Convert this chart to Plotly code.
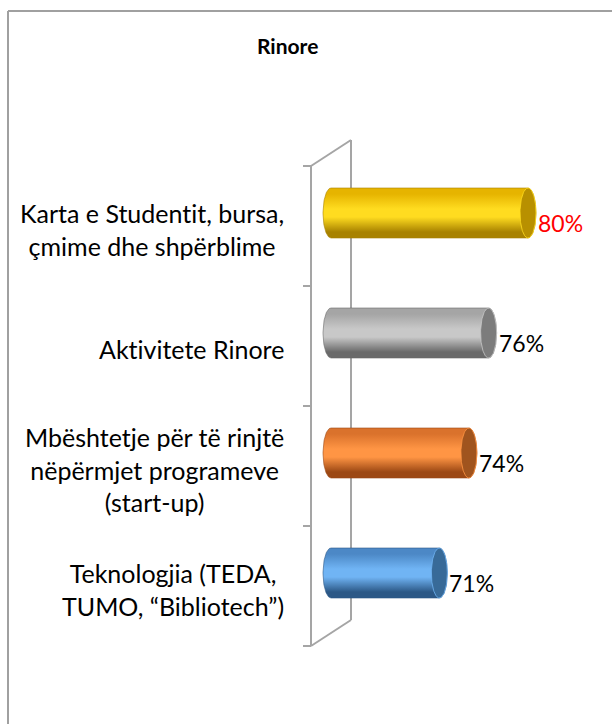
import numpy as np
import plotly.graph_objects as go

# --- data ---------------------------------------------------------------
categories = [
    "Karta e Studentit, bursa,<br>çmime dhe shpërblime",
    "Aktivitete Rinore",
    "Mbështetje për të rinjtë<br>nëpërmjet programeve<br>(start-up)",
    "Teknologjia (TEDA,<br>TUMO, “Bibliotech”)",
]
values = [80, 76, 74, 71]
value_labels = ["80%", "76%", "74%", "71%"]
label_colors = ["#FF0000", "#000000", "#000000", "#000000"]
title_text = "Rinore"

# cylinder shading: (top edge, highlight, bottom edge, end cap)
shades = [
    ("#E6B400", "#FFDC20", "#A88200", "#B89000"),
    ("#A5A5A5", "#C8C8C8", "#6A6A6A", "#7C7C7C"),
    ("#DA722C", "#FF9544", "#9C4814", "#A0541E"),
    ("#4C88C6", "#70B4F4", "#2C5886", "#386A98"),
]


def plain(text):
    # keep "ti" from collapsing into a typographic ligature
    return text.replace("ti", "t\u200ci")


# --- geometry of the pseudo-3D frame -------------------------------------
W, H = 612, 724
AXIS_MIN = 60            # value at the base of the bars
PX_PER_UNIT = 9.85       # horizontal scale (px per percentage point)
PX_PER_CAT = 120         # vertical spacing of categories
ORIGIN = (331, 213)      # pixel of (AXIS_MIN, first category) on the mid plane
X0 = AXIS_MIN - ORIGIN[0] / PX_PER_UNIT
X1 = X0 + W / PX_PER_UNIT
Y0 = -ORIGIN[1] / PX_PER_CAT
Y1 = Y0 + H / PX_PER_CAT

HALF = 25 / PX_PER_CAT   # half thickness of a cylinder
CAP = 8 / PX_PER_UNIT    # half width of the elliptic end caps
DX = 20 / PX_PER_UNIT    # depth offset of the wall, horizontal
DY = 13 / PX_PER_CAT     # depth offset of the wall, vertical
TICK = 8 / PX_PER_UNIT

fig = go.Figure()

half = np.linspace(-np.pi / 2, np.pi / 2, 60)
full = np.linspace(0, 2 * np.pi, 120)

for i, (v, (c_top, c_hi, c_bot, c_cap)) in enumerate(zip(values, shades)):
    # body: left rounded end at the axis base, right rounded end at the value
    xs = np.concatenate([
        v + CAP * np.cos(half),
        AXIS_MIN - CAP * np.cos(half[::-1]),
    ])
    ys = np.concatenate([
        i + HALF * np.sin(half),
        i + HALF * np.sin(half[::-1]),
    ])
    xs = np.append(xs, xs[0])
    ys = np.append(ys, ys[0])
    fig.add_trace(go.Scatter(
        x=xs, y=ys, mode="lines", fill="toself",
        line=dict(color=c_bot, width=0.6),
        fillgradient=dict(
            type="vertical", start=i - HALF, stop=i + HALF,
            colorscale=[[0, c_top], [0.12, c_top], [0.42, c_hi], [0.58, c_hi],
                        [0.88, c_bot], [1, c_bot]],
        ),
        hoverinfo="skip", showlegend=False,
    ))
    # end cap
    fig.add_trace(go.Scatter(
        x=v + CAP * np.cos(full), y=i + HALF * np.sin(full),
        mode="lines", fill="toself", fillcolor=c_cap,
        line=dict(color=c_hi, width=0.8),
        hoverinfo="skip", showlegend=False,
    ))
    # value label
    fig.add_annotation(
        x=v + CAP, y=i + 10 / PX_PER_CAT, text=value_labels[i],
        xanchor="left", yanchor="middle", showarrow=False,
        font=dict(family="Lato", size=23, color=label_colors[i]),
    )
    # category label
    fig.add_annotation(
        x=AXIS_MIN - 45 / PX_PER_UNIT, y=i + DY + 3 / PX_PER_CAT,
        text=plain(categories[i]), xanchor="right", yanchor="middle", align="center",
        showarrow=False,
        font=dict(family="Lato", size=25, color="#000000"),
    )

# wall outline and category ticks
n = len(categories)
fx, bx = AXIS_MIN - DX, AXIS_MIN + DX
f_top, f_bot = -0.5 + DY, n - 0.5 + DY
b_top, b_bot = -0.5 - DY, n - 0.5 - DY
wall = dict(color="#A5A5A5", width=2)
for x0, y0, x1, y1 in [
    (fx, f_top, fx, f_bot), (bx, b_top, bx, b_bot),
    (fx, f_top, bx, b_top), (fx, f_bot, bx, b_bot),
]:
    fig.add_shape(type="line", x0=x0, y0=y0, x1=x1, y1=y1, line=wall, layer="below")
for k in range(n + 1):
    fig.add_shape(type="line", x0=fx - TICK, x1=fx, y0=k - 0.5 + DY, y1=k - 0.5 + DY,
                  line=wall, layer="below")

# outer chart border (top and left edges)
border = dict(color="#A0A0A0", width=2)
fig.add_shape(type="line", xref="paper", yref="paper", x0=8 / W, x1=1, y0=1 - 11 / H, y1=1 - 11 / H, line=border)
fig.add_shape(type="line", xref="paper", yref="paper", x0=8 / W, x1=8 / W, y0=0, y1=1 - 11 / H, line=border)

fig.add_annotation(
    xref="paper", yref="paper", x=287 / W, y=1 - 45 / H, text="<b>" + title_text + "</b>",
    showarrow=False, xanchor="center", yanchor="middle",
    font=dict(family="Lato", size=21, color="#000000"),
)

fig.update_layout(
    width=W, height=H,
    margin=dict(l=0, r=0, t=0, b=0),
    paper_bgcolor="white", plot_bgcolor="white",
    xaxis=dict(range=[X0, X1], visible=False, fixedrange=True),
    yaxis=dict(range=[Y1, Y0], visible=False, fixedrange=True),
    showlegend=False,
)

fig.write_html("out.html")
